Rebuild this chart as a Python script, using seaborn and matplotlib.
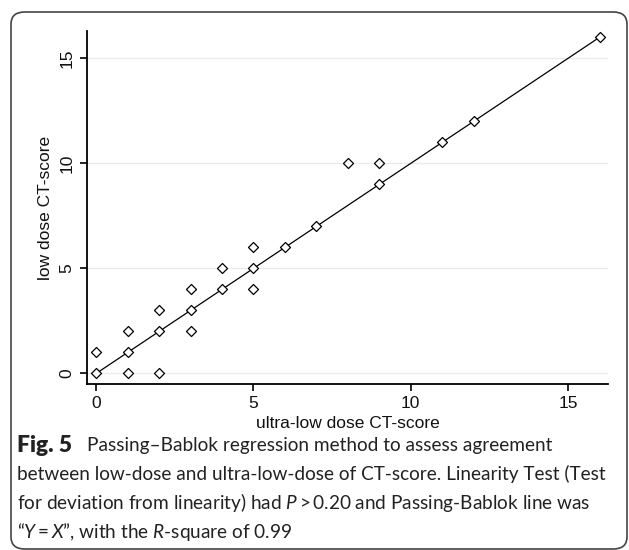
import matplotlib
matplotlib.use("Agg")
import matplotlib.pyplot as plt
from matplotlib.patches import FancyBboxPatch
import seaborn as sns
import pandas as pd

# data
ultra_low = [0, 0, 1, 1, 1, 2, 2, 2, 3, 3, 3, 4, 4, 5, 5, 5, 6, 7, 8, 9, 9, 11, 12, 16]
low_dose  = [0, 1, 0, 1, 2, 0, 2, 3, 2, 3, 4, 4, 5, 4, 5, 6, 6, 7, 10, 9, 10, 11, 12, 16]
line_x = [0, 16]
line_y = [0, 16]
x_ticks = [0, 5, 10, 15]
y_ticks = [0, 5, 10, 15]
x_label = "ultra-low dose CT-score"
y_label = "low dose CT-score"
caption_head = "Fig. 5"
caption_first = "Passing–Bablok regression method to assess agreement"
caption_rest = [
    "between low-dose and ultra-low-dose of CT-score. Linearity Test (Test",
    r"for deviation from linearity) had $P$$\,$>$\,$0.20 and Passing-Bablok line was",
    r"“$Y$$\,$=$\,$$X$”, with the $R$-square of 0.99",
]

sns.set_theme(style="white")
plt.rcParams["font.family"] = ["Liberation Sans", "DejaVu Sans"]
plt.rcParams["mathtext.fontset"] = "custom"
plt.rcParams["mathtext.rm"] = "Lato"
plt.rcParams["mathtext.it"] = "Lato:italic"
plt.rcParams["mathtext.bf"] = "Lato:bold"

W, H = 629, 550
fig = plt.figure(figsize=(W / 100, H / 100), dpi=100)
fig.patch.set_facecolor("white")

# outer rounded frame
frame = FancyBboxPatch((11 / W, 1 - 549 / H), (627 - 11) / W, (549 - 12) / H,
                       boxstyle="round,pad=0,rounding_size=0.022",
                       transform=fig.transFigure, fill=False,
                       edgecolor="#444444", linewidth=1.2, zorder=0)
fig.patches.append(frame)

ax = fig.add_axes([87 / W, 1 - 384 / H, (608 - 87) / W, (384 - 31) / H])
df = pd.DataFrame({"x": ultra_low, "y": low_dose})
ldf = pd.DataFrame({"x": line_x, "y": line_y})

for yv in y_ticks:
    ax.axhline(yv, color="#ebebeb", linewidth=1.0, zorder=0)

sns.lineplot(data=ldf, x="x", y="y", ax=ax, color="black", linewidth=0.9, zorder=2)
sns.scatterplot(data=df, x="x", y="y", ax=ax, marker="D", s=26,
                facecolor="white", edgecolor="black", linewidth=0.9, zorder=3)

ax.set_xlim(-0.29, 16.27)
ax.set_ylim(-0.5, 16.3)
ax.set_xticks(x_ticks)
ax.set_yticks(y_ticks)
ax.set_xticklabels([str(v) for v in x_ticks], fontsize=12.5)
ax.set_yticklabels([str(v) for v in y_ticks], fontsize=12.5, rotation=90, va="center")
ax.set_xlabel(x_label, fontsize=12.5, color="#111111", labelpad=3)
ax.set_ylabel(y_label, fontsize=12.5, color="#111111", labelpad=5)
ax.tick_params(axis="both", direction="out", length=5, width=1.2, color="black",
               labelcolor="#111111", bottom=True, left=True, pad=4)
for s in ["top", "right"]:
    ax.spines[s].set_visible(False)
for s in ["left", "bottom"]:
    ax.spines[s].set_color("black")
    ax.spines[s].set_linewidth(1.3)

# caption
ys = [445, 474, 503, 532]
fig.text(17 / W, 1 - ys[0] / H, caption_head, fontsize=16.5, family="Lato",
         weight="heavy", color="#222222", ha="left", va="center")
fig.text(87 / W, 1 - ys[0] / H, caption_first, fontsize=13.7, family="Lato",
         color="#222222", ha="left", va="center")
for line, yp in zip(caption_rest, ys[1:]):
    fig.text(17 / W, 1 - yp / H, line, fontsize=13.7, family="Lato",
             color="#222222", ha="left", va="center")

fig.savefig("out.png", dpi=100)
